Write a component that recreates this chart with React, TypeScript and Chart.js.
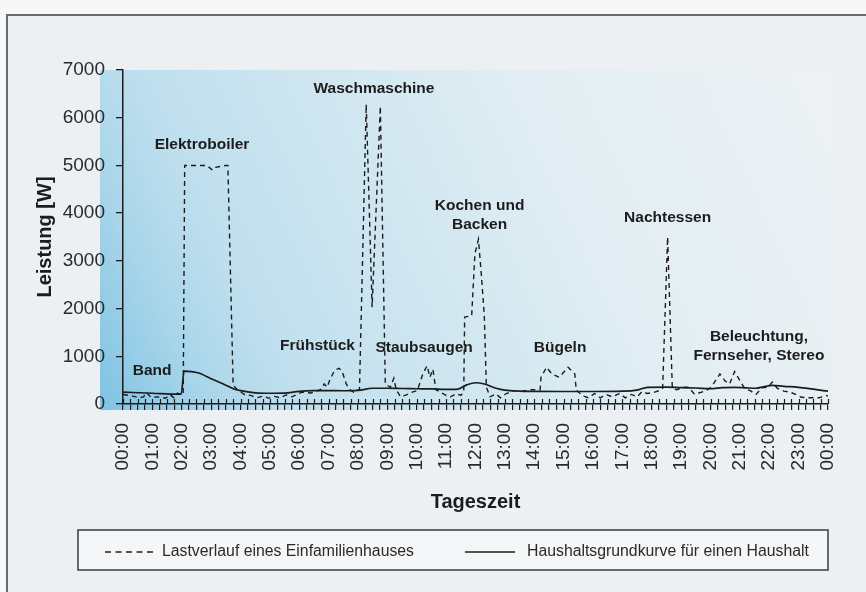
import React, { useEffect, useRef } from 'react';
import { Chart, registerables } from 'chart.js';

Chart.register(...registerables);

const FONT = "'Liberation Sans', Arial, Helvetica, sans-serif";
const INK = '#1c1c1c';

// x tick labels (hours)
const hourLabels = [
  '00:00', '01:00', '02:00', '03:00', '04:00', '05:00', '06:00', '07:00', '08:00',
  '09:00', '10:00', '11:00', '12:00', '13:00', '14:00', '15:00', '16:00', '17:00',
  '18:00', '19:00', '20:00', '21:00', '22:00', '23:00', '00:00',
];
const yTickLabels = ['0', '1000', '2000', '3000', '4000', '5000', '6000', '7000'];

const seriesNames = ['Lastverlauf eines Einfamilienhauses', 'Haushaltsgrundkurve für einen Haushalt'];

// Lastverlauf eines Einfamilienhauses (time in hours, power in W)
const loadTime = [
  0, 0.3, 0.55, 0.7, 0.8, 0.95, 1.2, 1.45, 1.6, 1.75, 1.85, 1.97, 2.05,
  2.1, 2.55, 2.85, 3.05, 3.15, 3.5, 3.57,
  3.75, 3.9, 4.15, 4.35, 4.55, 4.8, 4.95, 5.15, 5.35, 5.55, 5.75, 5.95,
  6.1, 6.4, 6.72, 6.85, 6.95, 7.05, 7.2, 7.35, 7.45, 7.6, 7.72, 7.85, 7.95, 8.05,
  8.28, 8.48, 8.76, 8.93,
  9.1, 9.22, 9.3, 9.45, 9.65, 9.85, 10.02,
  10.2, 10.35, 10.45, 10.55, 10.65,
  10.8, 11.0, 11.15, 11.35, 11.5, 11.6,
  11.63, 11.87, 11.98, 12.1, 12.2, 12.3, 12.37,
  12.5, 12.7, 12.85, 13.05, 13.3, 13.6, 13.9, 14.2,
  14.23, 14.42, 14.6, 14.85, 15.15, 15.38, 15.43,
  15.65, 15.85, 16.05, 16.25, 16.45, 16.65, 16.9, 17.1, 17.3, 17.5, 17.67, 17.85, 18.05, 18.25, 18.37,
  18.54, 18.7,
  18.85, 19.1, 19.25, 19.45, 19.65, 19.85, 20.02,
  20.32, 20.5, 20.65, 20.82, 21.0, 21.17,
  21.35, 21.55, 21.75, 21.95, 22.1, 22.27, 22.5, 22.7, 22.9, 23.1, 23.3, 23.5, 23.7, 23.9, 24,
];
const loadPower = [
  200, 170, 130, 150, 240, 140, 150, 120, 200, 120, 230, 200, 220,
  5000, 5000, 5000, 4900, 4960, 5000, 5000,
  390, 300, 190, 180, 130, 170, 120, 160, 130, 190, 150, 210,
  250, 230, 300, 420, 350, 520, 700, 750, 700, 420, 300, 250, 290, 300,
  6280, 2030, 6240, 420,
  350, 540, 300, 150, 190, 250, 280,
  620, 800, 560, 730, 300,
  250, 180, 150, 220, 180, 250,
  1820, 1850, 3150, 3450, 2700, 1850, 350,
  150, 210, 130, 220, 280, 270, 300, 300,
  560, 770, 630, 560, 770, 630, 290,
  170, 130, 220, 130, 200, 150, 220, 130, 200, 150, 260, 220, 240, 280, 330,
  3500, 330,
  300, 350, 350, 210, 240, 280, 350,
  630, 480, 420, 680, 490, 320,
  280, 200, 340, 350, 460, 330, 270, 250, 200, 140, 130, 130, 130, 180, 170,
];

// Haushaltsgrundkurve für einen Haushalt
const baseTime = [
  0, 1, 1.98, 2.08, 2.55, 3, 3.5, 3.75, 4, 4.5, 5, 5.5, 6, 6.5, 7, 7.5, 8, 8.5, 9, 9.5,
  10, 10.5, 11, 11.4, 11.7, 12, 12.3, 12.7, 13, 13.5, 14, 15, 16, 17, 17.5, 17.85,
  18.5, 19, 19.5, 20, 20.4, 20.8, 21.2, 21.55, 21.8, 22.1, 22.5, 23, 23.5, 24,
];
const basePower = [
  250, 225, 205, 690, 655, 530, 395, 320, 280, 235, 225, 228, 265, 280, 282, 278, 285, 330, 330, 325,
  320, 315, 305, 312, 400, 445, 420, 330, 290, 270, 265, 262, 262, 268, 290, 350,
  352, 342, 335, 320, 345, 350, 340, 330, 360, 390, 370, 350, 310, 268,
];

// event labels, anchored in data units (hours, W)
const eventLabels = [
  ['Band'], ['Elektroboiler'], ['Frühstück'], ['Waschmaschine'], ['Staubsaugen'],
  ['Kochen und', 'Backen'], ['Bügeln'], ['Nachtessen'], ['Beleuchtung,', 'Fernseher, Stereo'],
];
const eventTime = [0.99, 2.69, 6.62, 8.545, 10.25, 12.14, 14.88, 18.54, 21.65];
const eventPower = [692, 5429, 1216, 6602, 1184, 3961, 1174, 3909, 1216];

const backdropPlugin = {
  id: 'backdrop',
  beforeDraw(chart: any) {
    const { ctx, chartArea: a } = chart;
    const x0 = a.left - 23, x1 = a.right + 7, y0 = a.top, y1 = a.bottom + 6;
    ctx.save();
    const g = ctx.createLinearGradient(x0, y1, x1, y0);
    g.addColorStop(0, '#7fc3e3');
    g.addColorStop(0.12, '#a8d5ea');
    g.addColorStop(0.22, '#bfdfee');
    g.addColorStop(0.5, '#d6e9f1');
    g.addColorStop(0.65, '#e2eef3');
    g.addColorStop(1, '#edf1f4');
    ctx.fillStyle = g;
    ctx.fillRect(x0, y0, x1 - x0, y1 - y0);
    ctx.restore();
  },
};

const crossTickPlugin = {
  id: 'crossTicks',
  afterDatasetsDraw(chart: any) {
    const s = chart.scales.x;
    const { ctx } = chart;
    const y = chart.chartArea.bottom;
    ctx.save();
    ctx.strokeStyle = INK;
    ctx.lineWidth = 1.2;
    ctx.beginPath();
    s.ticks.forEach((_t: any, i: number) => {
      const px = Math.round(s.getPixelForTick(i)) + 0.5;
      ctx.moveTo(px, y - 5);
      ctx.lineTo(px, y);
    });
    ctx.stroke();
    ctx.restore();
  },
};

const eventLabelPlugin = {
  id: 'eventLabels',
  afterDatasetsDraw(chart: any) {
    const { ctx } = chart;
    const xs = chart.scales.x, ys = chart.scales.y;
    ctx.save();
    ctx.font = `bold 15.5px ${FONT}`;
    ctx.fillStyle = INK;
    ctx.textAlign = 'center';
    ctx.textBaseline = 'middle';
    const lh = 19;
    eventLabels.forEach((lines, i) => {
      const cx = xs.getPixelForValue(eventTime[i]);
      const cy = ys.getPixelForValue(eventPower[i]);
      const start = cy - ((lines.length - 1) * lh) / 2;
      lines.forEach((t, j) => ctx.fillText(t, cx, start + j * lh));
    });
    ctx.restore();
  },
};

const legendBoxPlugin = {
  id: 'legendBox',
  afterDraw(chart: any) {
    const { ctx } = chart;
    const a = chart.chartArea;
    const left = 78, right = a.right, top = 530, h = 40;
    ctx.save();
    ctx.fillStyle = '#f4f6f7';
    ctx.fillRect(left, top, right - left, h);
    ctx.strokeStyle = '#3a3a3a';
    ctx.lineWidth = 1.5;
    ctx.strokeRect(left, top, right - left, h);
    const cy = top + 22;
    const items = [
      { x0: 105, x1: 153, tx: 162 },
      { x0: 465, x1: 515, tx: 527 },
    ];
    ctx.font = `15.8px ${FONT}`;
    ctx.textBaseline = 'middle';
    ctx.textAlign = 'left';
    items.forEach((it, i) => {
      const ds = chart.data.datasets[i];
      ctx.strokeStyle = ds.borderColor;
      ctx.lineWidth = i === 0 ? 1.4 : 1.6;
      ctx.setLineDash(i === 0 ? [6, 4.5] : []);
      ctx.beginPath();
      ctx.moveTo(it.x0, cy);
      ctx.lineTo(it.x1, cy);
      ctx.stroke();
      ctx.setLineDash([]);
      ctx.fillStyle = '#2a2a2a';
      ctx.fillText(ds.label, it.tx, cy);
    });
    ctx.restore();
  },
};

export default function App() {
  const ref = useRef<HTMLCanvasElement>(null);

  useEffect(() => {
    const loadData = loadTime.map((t, i) => ({ x: t, y: loadPower[i] }));
    const baseData = baseTime.map((t, i) => ({ x: t, y: basePower[i] }));
    const chart = new Chart(ref.current as HTMLCanvasElement, {
      type: 'line',
      data: {
        datasets: [
          {
            label: seriesNames[0],
            data: loadData,
            borderColor: INK,
            borderWidth: 1.4,
            borderDash: [5, 4],
            pointRadius: 0,
            tension: 0,
            fill: false,
          },
          {
            label: seriesNames[1],
            data: baseData,
            borderColor: INK,
            borderWidth: 1.7,
            pointRadius: 0,
            cubicInterpolationMode: 'monotone',
            fill: false,
          },
        ],
      },
      options: {
        responsive: false,
        animation: false,
        devicePixelRatio: 1,
        layout: { padding: { left: 33, top: 70, right: 38, bottom: 78 } },
        plugins: { legend: { display: false }, tooltip: { enabled: false } },
        scales: {
          x: {
            type: 'linear',
            min: 0,
            max: 24,
            afterFit: (s: any) => { s.height = 110; },
            border: { display: true, color: INK, width: 1.5 },
            grid: { drawOnChartArea: false, drawTicks: true, tickLength: 6, color: INK, lineWidth: 1.2 },
            ticks: {
              stepSize: 0.25,
              autoSkip: false,
              maxRotation: 90,
              minRotation: 90,
              padding: 13,
              color: '#2a2a2a',
              font: { family: FONT, size: 19 },
              callback: (v: any) => (Number.isInteger(v) ? hourLabels[v] : ''),
            },
            title: {
              display: true,
              text: 'Tageszeit',
              color: INK,
              padding: 0,
              font: { family: FONT, size: 20, weight: 'bold' },
            },
          },
          y: {
            min: 0,
            max: 7000,
            afterFit: (s: any) => { s.width = 90; },
            border: { display: true, color: INK, width: 1.5 },
            grid: { drawOnChartArea: false, drawTicks: true, tickLength: 7, color: INK, lineWidth: 1.3 },
            ticks: {
              stepSize: 1000,
              padding: 11,
              color: '#2a2a2a',
              font: { family: FONT, size: 19 },
              callback: (v: any) => yTickLabels[Math.round(v / 1000)],
            },
            title: {
              display: true,
              text: 'Leistung [W]',
              color: INK,
              padding: 0,
              font: { family: FONT, size: 20, weight: 'bold' },
            },
          },
        },
      },
      plugins: [backdropPlugin, crossTickPlugin, eventLabelPlugin, legendBoxPlugin],
    } as any);
    return () => chart.destroy();
  }, []);

  return (
    <div style={{ position: 'fixed', left: 0, top: 0, width: 866, height: 592, background: '#f6f7f8', overflow: 'hidden' }}>
      <div style={{ position: 'absolute', left: 6, top: 14, width: 880, height: 600, border: '2px solid #6a6a6a', background: '#ecf0f3' }} />
      <canvas ref={ref} width={866} height={592} style={{ position: 'absolute', left: 0, top: 0, width: 866, height: 592 }} />
    </div>
  );
}
